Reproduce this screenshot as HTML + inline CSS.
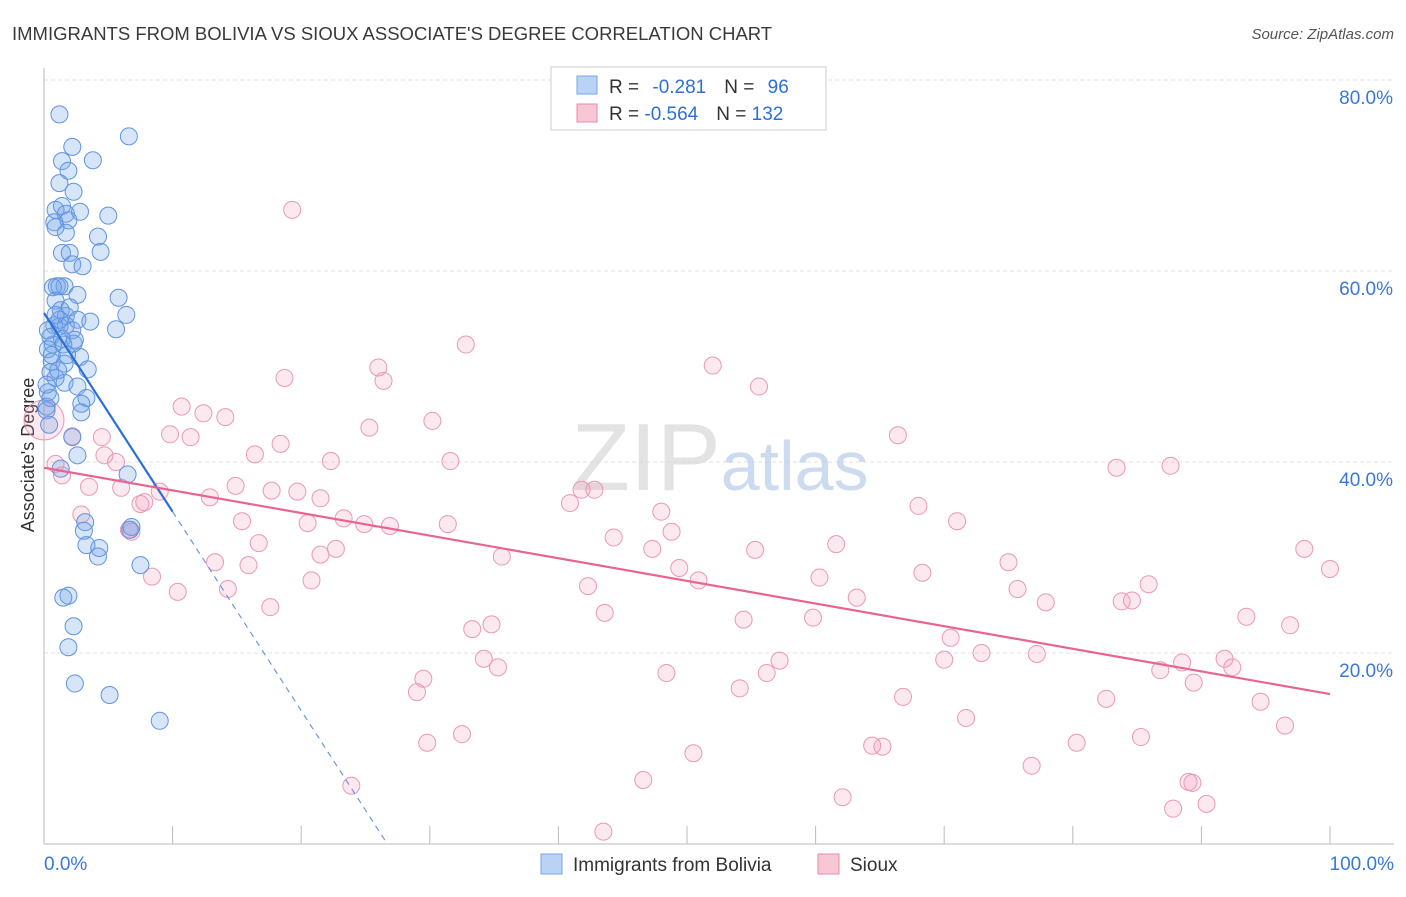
<!DOCTYPE html>
<html><head><meta charset="utf-8">
<style>
html,body{margin:0;padding:0;background:#fff;}
body{width:1406px;height:892px;overflow:hidden;font-family:"Liberation Sans",sans-serif;}
svg text{font-family:"Liberation Sans",sans-serif;}
</style></head>
<body>
<svg id="chart" width="1406" height="892" xmlns="http://www.w3.org/2000/svg">
  <text x="12" y="40" font-size="18.5" fill="#3a3a3a">IMMIGRANTS FROM BOLIVIA VS SIOUX ASSOCIATE'S DEGREE CORRELATION CHART</text>
  <text x="1394" y="39" font-size="15" fill="#555" text-anchor="end" font-style="italic">Source: ZipAtlas.com</text>
  <g id="grid"></g>
  <g id="axes"></g>
  <text x="720" y="490" font-size="96" text-anchor="middle" fill="#d8d8d8" font-family="Liberation Serif" opacity="0.7">ZIP<tspan fill="#b9cdea" font-family="Liberation Sans" font-size="70">atlas</tspan></text>
  <text transform="translate(34,455) rotate(-90)" font-size="18" fill="#333" text-anchor="middle">Associate's Degree</text>
  <g id="pink"></g>
  <g id="blue"></g>
  <g id="lines"></g>
  <g>
    <rect x="551" y="67" width="275" height="63" fill="#fff" stroke="#ccc"/>
    <rect x="577" y="76" width="20" height="18" fill="#b9d2f5" stroke="#7aa6e6"/>
    <text x="609" y="93" font-size="19" fill="#333">R = <tspan fill="#2d6fd6" dx="8">-0.281</tspan><tspan dx="18">N = </tspan><tspan fill="#2d6fd6" dx="8">96</tspan></text>
    <rect x="577" y="104" width="20" height="18" fill="#f8c6d5" stroke="#e88aa8"/>
    <text x="609" y="120" font-size="19" fill="#333">R = <tspan fill="#2d6fd6">-0.564</tspan><tspan dx="18">N = </tspan><tspan fill="#2d6fd6">132</tspan></text>
  </g>
  <g>
    <rect x="541" y="854" width="21" height="20" fill="#b9d2f5" stroke="#7aa6e6"/>
    <text x="573" y="871" font-size="19" fill="#333">Immigrants from Bolivia</text>
    <rect x="818" y="854" width="21" height="20" fill="#f8c6d5" stroke="#e88aa8"/>
    <text x="850" y="871" font-size="19" fill="#333">Sioux</text>
  </g>
</svg>
<script>
const yTicks=[20,40,60,80];
const yTickLabels=["20.0%","40.0%","60.0%","80.0%"];
const xTicks=[0,10,20,30,40,50,60,70,80,90,100];
const xEndLabels=["0.0%","100.0%"];
const blueX=[1.2,6.6,2.2,3.8,1.4,1.9,1.2,2.3,0.9,1.4,1.7,2.8,5.0,0.8,1.9,1.7,0.9,4.2,1.4,2.0,4.4,2.2,3.0,1.0,1.6,0.7,1.2,2.6,5.8,0.9,1.3,6.4,1.7,2.6,3.6,0.8,1.2,1.7,2.2,5.6,0.5,1.4,0.7,2.3,1.8,0.3,2.8,0.6,1.6,3.4,0.5,0.9,1.6,2.6,0.3,0.5,3.3,2.9,0.2,0.2,2.9,0.4,2.2,2.6,1.3,6.5,3.2,3.1,6.7,6.8,3.3,4.3,4.2,7.5,1.9,1.5,2.3,1.9,2.4,5.1,9.0,1.2,0.9,2.0,0.3,0.6,1.1,0.2,2.4,1.5];
const blueY=[76.4,74.1,73.0,71.6,71.5,70.5,69.2,68.3,66.4,66.8,66.0,66.2,65.8,65.1,65.3,64.0,64.6,63.6,61.9,61.9,62.0,60.7,60.5,58.4,58.4,58.3,58.4,57.5,57.2,56.9,55.9,55.4,55.3,54.9,54.7,54.3,54.2,54.3,53.8,53.9,53.1,52.9,52.3,52.4,51.2,51.8,51.0,50.5,50.3,49.7,49.4,48.8,48.3,47.9,47.3,46.7,46.7,46.1,45.8,45.4,45.2,43.9,42.6,40.7,39.3,38.7,33.7,32.8,32.9,33.2,31.3,31.0,30.1,29.2,26.0,25.8,22.8,20.6,16.8,15.6,12.9,54.9,55.4,56.2,53.8,51.2,49.6,48.1,52.8,52.3];
const pinkX=[19.3,32.8,52.0,26.0,18.7,26.4,55.6,10.7,12.4,14.1,30.2,25.3,9.8,66.4,11.4,18.4,2.2,4.5,16.4,4.7,31.6,22.3,5.6,0.9,83.4,87.6,1.4,14.9,3.5,6.0,9.0,12.9,17.7,19.7,21.5,41.8,42.8,7.8,7.5,40.9,68.0,2.9,15.4,23.3,20.5,24.9,26.9,31.4,48.0,71.0,6.6,6.8,48.8,44.3,16.7,61.6,55.3,22.7,21.5,47.3,35.6,98.0,13.3,15.9,8.4,20.8,49.4,68.3,60.3,100,50.9,42.3,10.4,14.3,75.0,75.7,85.9,63.2,77.9,83.8,84.6,17.6,43.6,54.4,59.8,93.5,96.9,33.3,34.8,70.5,72.9,77.2,70.0,57.2,34.2,35.3,56.2,48.4,86.8,88.5,91.8,92.4,89.4,29.5,29.0,54.1,66.8,82.6,94.6,71.7,32.5,29.8,96.5,80.3,85.3,64.4,65.2,50.5,76.8,46.6,89.0,89.3,23.9,62.1,90.4,87.8,43.5,0];
const pinkY=[66.4,52.3,50.1,49.9,48.8,48.5,47.9,45.8,45.1,44.7,44.3,43.6,42.9,42.8,42.6,41.9,42.7,42.6,40.8,40.7,40.1,40.1,40.0,39.8,39.4,39.6,38.6,37.5,37.4,37.3,36.9,36.3,37.0,36.9,36.2,37.1,37.1,35.8,35.6,35.7,35.4,34.5,33.8,34.1,33.6,33.5,33.3,33.5,34.8,33.8,32.9,32.7,32.7,32.1,31.5,31.4,30.8,30.9,30.3,30.9,30.1,30.9,29.5,29.2,28.0,27.6,28.9,28.4,27.9,28.8,27.6,27.0,26.4,26.7,29.5,26.7,27.2,25.8,25.3,25.4,25.5,24.8,24.2,23.5,23.7,23.8,22.9,22.5,23.0,21.6,20.0,19.9,19.3,19.2,19.4,18.5,17.9,17.9,18.2,19.0,19.4,18.5,16.9,17.3,15.9,16.3,15.4,15.2,14.9,13.2,11.5,10.6,12.4,10.6,11.2,10.3,10.2,9.5,8.2,6.7,6.5,6.4,6.1,4.9,4.2,3.7,1.3,44.4];
const blueTrend=[[0,55.6],[10,34.8],[26.7,0]];
const pinkTrend=[[0,39.4],[100,15.7]];

const NS="http://www.w3.org/2000/svg";
const sx=v=>44+v*12.86;
const sy=v=>844-v*9.55;
function mk(tag,attrs,parent){const e=document.createElementNS(NS,tag);for(const k in attrs)e.setAttribute(k,attrs[k]);parent.appendChild(e);return e;}
const grid=document.getElementById('grid'),axes=document.getElementById('axes');
yTicks.forEach((t,i)=>{
  const l=mk('line',{x1:44,x2:1394,y1:sy(t),y2:sy(t),stroke:'#e2e2e2','stroke-dasharray':'4,3'},grid);
  
  
  const tx=mk('text',{x:1393,y:sy(t)+24,'font-size':19,fill:'#3a78d8','text-anchor':'end'},axes);
  tx.textContent=yTickLabels[i];
  
  
});
const ax=mk('line',{x1:44,x2:1394,y1:844,y2:844,stroke:'#bbb'},axes);


const ay=mk('line',{x1:44,x2:44,y1:68,y2:844,stroke:'#bbb'},axes);


xTicks.forEach(t=>{
  const l=mk('line',{x1:sx(t),x2:sx(t),y1:826,y2:844,stroke:'#bbb'},axes);
  
  
});
const xl0=mk('text',{x:44,y:870,'font-size':19,fill:'#3a78d8'},axes);
xl0.textContent=xEndLabels[0];


const xl1=mk('text',{x:1394,y:870,'font-size':19,fill:'#3a78d8','text-anchor':'end'},axes);
xl1.textContent=xEndLabels[1];



const pg=document.getElementById('pink');
pinkX.forEach((x,i)=>{
  const big=(i===pinkX.length-1);
  const c=mk('circle',{cx:sx(x),cy:sy(pinkY[i]),r:big?20:8.5,fill:'rgba(242,150,180,0.22)',stroke:'#eb98b3','stroke-width':1},pg);
  
  
});
const bg=document.getElementById('blue');
blueX.forEach((x,i)=>{
  const c=mk('circle',{cx:sx(x),cy:sy(blueY[i]),r:8.5,fill:'rgba(110,160,232,0.28)',stroke:'#5f93e0','stroke-width':1},bg);
  
  
});
const lg=document.getElementById('lines');
const b1=mk('line',{x1:sx(blueTrend[0][0]),y1:sy(blueTrend[0][1]),x2:sx(blueTrend[1][0]),y2:sy(blueTrend[1][1]),stroke:'#2a6fd6','stroke-width':2.2},lg);


const b2=mk('line',{x1:sx(blueTrend[1][0]),y1:sy(blueTrend[1][1]),x2:sx(blueTrend[2][0]),y2:sy(blueTrend[2][1]),stroke:'#6a9ae0','stroke-width':1.2,'stroke-dasharray':'6,5'},lg);


const p1=mk('line',{x1:sx(pinkTrend[0][0]),y1:sy(pinkTrend[0][1]),x2:sx(pinkTrend[1][0]),y2:sy(pinkTrend[1][1]),stroke:'#e86592','stroke-width':2.2},lg);


</script>
</body></html>
